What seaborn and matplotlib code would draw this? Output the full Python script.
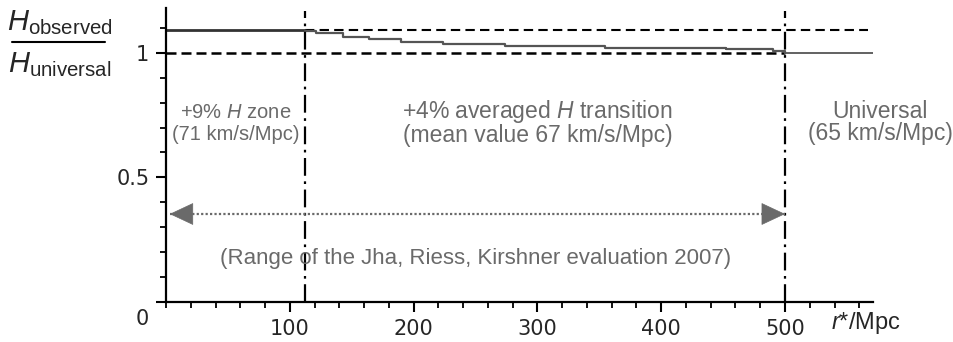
import matplotlib
matplotlib.use("Agg")
import matplotlib.pyplot as plt
import seaborn as sns
from matplotlib.lines import Line2D
from matplotlib.ticker import MultipleLocator
import matplotlib.transforms as mtransforms

# data
r_local = [0, 112]
h_local = [1.09, 1.09]
r_steps = [112, 121, 143, 164, 190, 224, 274, 355, 452, 490, 500]
h_steps = [1.088, 1.080, 1.064, 1.055, 1.045, 1.037, 1.029, 1.019, 1.015, 1.005, 1.0]
r_universal = [500, 571]
h_universal = [1.0, 1.0]
h_high_ref = 1.09
h_low_ref = 1.0
r_boundaries = [112, 500]
jrk_range = [3, 500]
jrk_level = 0.353

sns.set_style("ticks")
plt.rcParams["font.family"] = ["Liberation Sans", "DejaVu Sans"]
plt.rcParams["mathtext.fontset"] = "custom"
plt.rcParams["mathtext.rm"] = "Liberation Sans"
plt.rcParams["mathtext.it"] = "Liberation Sans:italic"

fig = plt.figure(figsize=(9.54, 3.42), dpi=100)
ax = fig.add_axes([0.174, 0.117, 0.741, 0.86])

grey = "#6a6a6a"

# reference levels
ax.plot([0, r_boundaries[1]], [h_low_ref, h_low_ref], color="black", lw=1.8, ls=(0, (4, 2)))
ax.plot([r_boundaries[0], 567], [h_high_ref, h_high_ref], color="black", lw=1.5, ls=(0, (4.5, 2.5)))

# H curve
sns.lineplot(x=r_local, y=h_local, ax=ax, color="#333333", lw=2)
sns.lineplot(x=r_steps, y=h_steps, ax=ax, color="#555555", lw=1.6, drawstyle="steps-post")
sns.lineplot(x=r_universal, y=h_universal, ax=ax, color="#555555", lw=1.3)

# zone boundaries
for rb in r_boundaries:
    ax.axvline(rb, ymin=0, ymax=0.99, color="black", lw=1.6, ls=(0, (8, 2.5, 1.2, 2.5)))

# range arrow: dotted shaft, solid heads
sns.lineplot(x=jrk_range, y=[jrk_level, jrk_level], ax=ax, color=grey, lw=1.6, ls=(0, (1, 1)))
head = dict(arrowstyle="-|>,head_length=1.6,head_width=0.75", color=grey, lw=0.5,
            shrinkA=0, shrinkB=0, mutation_scale=10)
ax.annotate("", xy=(jrk_range[0], jrk_level), xytext=(16, 0), textcoords="offset points", arrowprops=head)
ax.annotate("", xy=(jrk_range[1], jrk_level), xytext=(-16, 0), textcoords="offset points", arrowprops=head)

txt = dict(color=grey, ha="center", va="center", multialignment="center")
ax.text(56, 0.716, "+9% $H$ zone\n(71 km/s/Mpc)", fontsize=14.5, linespacing=1.15, **txt)
ax.text(300, 0.72, "+4% averaged $H$ transition\n(mean value 67 km/s/Mpc)", fontsize=16.5, linespacing=0.95, **txt)
ax.text(577, 0.72, "Universal\n(65 km/s/Mpc)", fontsize=16.5, linespacing=0.95, clip_on=False, **txt)
ax.text(250, 0.173, "(Range of the Jha, Riess, Kirshner evaluation 2007)", fontsize=16, **txt)

# axes
ax.set_xlim(0, 571)
ax.set_ylim(0, 1.18)
sns.despine(ax=ax)
for s in ["left", "bottom"]:
    ax.spines[s].set_linewidth(1.6)
    ax.spines[s].set_color("black")
ax.set_xticks([100, 200, 300, 400, 500])
ax.xaxis.set_minor_locator(MultipleLocator(20))
ax.set_yticks([0, 0.5, 1])
ax.set_yticklabels(["0", "0.5", "1"])
ax.yaxis.set_minor_locator(MultipleLocator(0.1))
ax.tick_params(which="major", length=7, width=1.5, color="black", labelsize=15, pad=5)
ax.tick_params(which="minor", length=4, width=1.3, color="black")
for lab in ax.get_xticklabels() + ax.get_yticklabels():
    lab.set_fontfamily("DejaVu Sans")
# the 0 label sits below the corner
zero = ax.get_yticklabels()[0]
zero.set_transform(zero.get_transform() + mtransforms.ScaledTranslation(0, -0.15, fig.dpi_scale_trans))

ax.text(0.99, -0.072, "$r$*/Mpc", transform=ax.transAxes, fontsize=17,
        ha="center", va="center", clip_on=False)

# y label as a fraction
fig.text(0.063, 0.934, r"$H_{\mathrm{observed}}$", fontsize=21, ha="center", va="center")
fig.text(0.063, 0.810, r"$H_{\mathrm{universal}}$", fontsize=21, ha="center", va="center")
fig.add_artist(Line2D([0.013, 0.11], [0.877, 0.877], color="black", lw=1.5))

fig.savefig("out.png", dpi=100)
